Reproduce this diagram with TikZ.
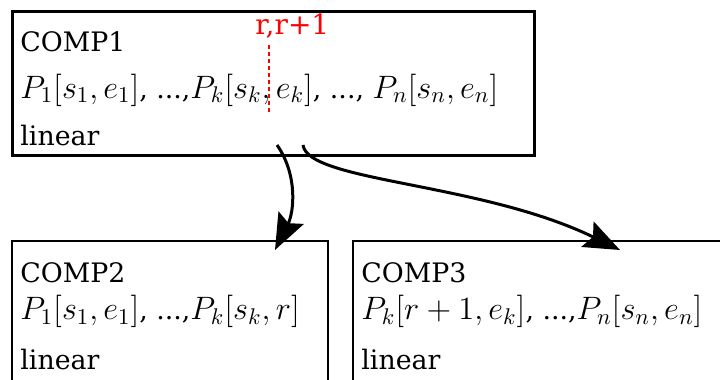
\RequirePackage{fix-cm}
\documentclass[tikz,border=0pt]{standalone}
\usepackage{fontspec}
\setmainfont{DejaVu Serif}
\usetikzlibrary{arrows.meta}
\newcommand\mymath[1]{{\fontsize{16.2}{18}\selectfont$#1$}}
\begin{document}
\begin{tikzpicture}[x=0.5pt,y=-0.5pt,
  box/.style={draw, rectangle, inner sep=0pt, anchor=north west},
  topbox/.style={box, line width=1.6pt},
  lowbox/.style={box, line width=1.2pt},
  txt/.style={anchor=base west, inner sep=0pt, font=\fontsize{13.4}{16}\selectfont},
  redlabel/.style={anchor=base west, inner sep=0pt, text=red, font=\fontsize{14}{16}\selectfont},
  cutline/.style={red, line width=1pt, dash pattern=on 2pt off 1.5pt},
  conn/.style={line width=1.5pt, -{Stealth[length=18pt,width=14pt,inset=3pt]}}]
\clip (0,0) rectangle (720,380);
\node[topbox, minimum width=261pt, minimum height=72pt] (comp1) at (11,10) {};
\node[lowbox, minimum width=158pt, minimum height=90pt] (comp2) at (11,240) {};
\node[lowbox, minimum width=204pt, minimum height=90pt] (comp3) at (352,240) {};

\node[txt] (t1a) at (20,52) {COMP1};
\node[txt] (t1b) at (20,98) {\mymath{P_1[s_1,e_1]}, ...,\mymath{P_k[s_k,e_k]}, ..., \mymath{P_n[s_n,e_n]}};
\node[txt] (t1c) at (20,146) {linear};

\node[txt] (t2a) at (20,283) {COMP2};
\node[txt] (t2b) at (20,320) {\mymath{P_1[s_1,e_1]}, ...,\mymath{P_k[s_k,r]}};
\node[txt] (t2c) at (20,370) {linear};

\node[txt] (t3a) at (361,283) {COMP3};
\node[txt] (t3b) at (361,320) {\mymath{P_k[r+1,e_k]}, ...,\mymath{P_n[s_n,e_n]}};
\node[txt] (t3c) at (361,370) {linear};

\node[redlabel] (cut) at (255,34) {r,r+1};
\coordinate (cuttop) at (269,45);
\coordinate (cutbot) at (269,115);
\draw[cutline] (cuttop) -- (cutbot);

\coordinate (a1) at (277,145);
\coordinate (b1) at (275,250);
\coordinate (a2) at (303,145);
\coordinate (b2) at (620,250);
\draw[conn] (a1) .. controls (298,175) and (294,212) .. (b1);
\draw[conn] (a2) .. controls (308,182) and (480,182) .. (b2);
\end{tikzpicture}
\end{document}
